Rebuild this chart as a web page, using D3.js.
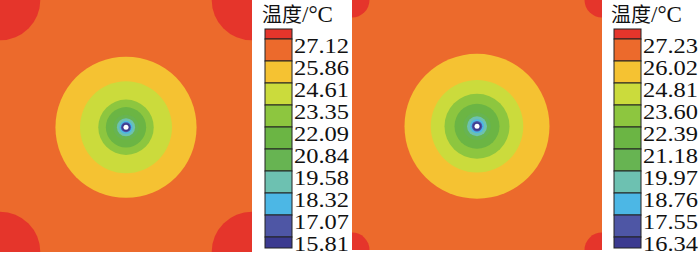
<!DOCTYPE html>
<html lang="en">
<head>
    <meta charset="UTF-8">
    <title></title>
    <style>
        body { margin: 0; background: #fff; }
    </style>
</head>
<body>
</body>
<script src="https://cdn.jsdelivr.net/npm/d3@7/dist/d3.min.js" charset="utf-8"></script>
<script>
    // legend tick values (top -> bottom)
    var leftTicks = [27.12, 25.86, 24.61, 23.35, 22.09, 20.84, 19.58, 18.32, 17.07, 15.81];
    var rightTicks = [27.23, 26.02, 24.81, 23.60, 22.39, 21.18, 19.97, 18.76, 17.55, 16.34];

    // colour of each level band (hottest first)
    var levelColors = ['#e5352b', '#ec6a2c', '#f5c232', '#cbdb3c', '#8dc63f', '#6bb544',
        '#67b452', '#6dc1b1', '#4cb7e5', '#4e56a5', '#3b3a90'];

    // outer radius of each band around the well, level 2 (yellow) inward,
    // in panel units (half panel width = 1)
    var leftRadii = [0.56, 0.365, 0.22, 0.16, 0.10, 0.072, 0.052, 0.04, 0.032];
    var rightRadii = [0.58, 0.37, 0.26, 0.18, 0.11, 0.08, 0.056, 0.042, 0.033];
    var leftCore = 0.02, rightCore = 0.02;

    // hottest band, measured from each corner
    var leftCorner = 0.32, rightCorner = 0.14;

    var svg = d3.select('body')
            .append('svg')
            .attr('width', 700)
            .attr('height', 255);

    function drawPanel(id, x0, x1, radii, core, corner, ticks, legX) {
        var sx = d3.scaleLinear().domain([-1, 1]).range([x0, x1]);
        var sy = d3.scaleLinear().domain([-1, 1]).range([0, x1 - x0]);
        var sr = d3.scaleLinear().domain([0, 1]).range([0, (x1 - x0) / 2]);

        svg.append('clipPath').attr('id', id)
                .append('rect')
                .attr('x', x0).attr('y', 0)
                .attr('width', x1 - x0).attr('height', x1 - x0);

        var g = svg.append('g').attr('clip-path', 'url(#' + id + ')');

        g.append('rect')
                .attr('x', x0).attr('y', 0)
                .attr('width', x1 - x0).attr('height', x1 - x0)
                .attr('fill', levelColors[1]);

        g.selectAll('circle.corner')
                .data([[-1, -1], [1, -1], [-1, 1], [1, 1]])
                .enter()
                .append('circle')
                .attr('class', 'corner')
                .attr('cx', function (d) { return sx(d[0]) })
                .attr('cy', function (d) { return sy(d[1]) })
                .attr('r', sr(corner))
                .attr('fill', levelColors[0]);

        g.selectAll('circle.ring')
                .data(radii)
                .enter()
                .append('circle')
                .attr('class', 'ring')
                .attr('cx', sx(0))
                .attr('cy', sy(0.01))
                .attr('r', function (d) { return sr(d) })
                .attr('fill', function (d, i) { return levelColors[i + 2] });

        g.append('circle')
                .attr('cx', sx(0))
                .attr('cy', sy(0.01))
                .attr('r', sr(core))
                .attr('fill', '#ffffff');

        // legend
        var boxW = 27, top = 29, bottom = 248;
        var b = d3.scaleLinear().domain([0, 9]).range([39, 237]);
        var lg = svg.append('g');

        lg.selectAll('rect')
                .data(levelColors)
                .enter()
                .append('rect')
                .attr('x', legX)
                .attr('y', function (d, i) { return i == 0 ? top : b(i - 1) })
                .attr('width', boxW)
                .attr('height', function (d, i) {
                    var y0 = i == 0 ? top : b(i - 1);
                    var y1 = i == 10 ? bottom : b(i);
                    return y1 - y0;
                })
                .attr('fill', function (d) { return d })
                .attr('stroke', '#222')
                .attr('stroke-width', 1);

        lg.selectAll('text.tick')
                .data(ticks)
                .enter()
                .append('text')
                .attr('class', 'tick')
                .attr('x', legX + boxW + 2)
                .attr('y', function (d, i) { return b(i) + 14 })
                .attr('font-family', '"Liberation Serif", serif')
                .attr('font-size', '21px')
                .attr('textLength', 55)
                .attr('lengthAdjust', 'spacingAndGlyphs')
                .attr('fill', '#111')
                .text(function (d) { return d.toFixed(2) });

        var title = lg.append('text')
                .attr('x', legX - 3)
                .attr('y', 22)
                .attr('font-size', '20px')
                .attr('fill', '#111');
        title.append('tspan')
                .attr('font-family', '"Noto Sans CJK SC", sans-serif')
                .text('温度');
        title.append('tspan')
                .attr('font-family', '"Liberation Serif", serif')
                .attr('font-size', '23px')
                .text('/°C');
    }

    drawPanel('clipL', 0, 252, leftRadii, leftCore, leftCorner, leftTicks, 265);
    drawPanel('clipR', 352, 602, rightRadii, rightCore, rightCorner, rightTicks, 614);
</script>
</html>
